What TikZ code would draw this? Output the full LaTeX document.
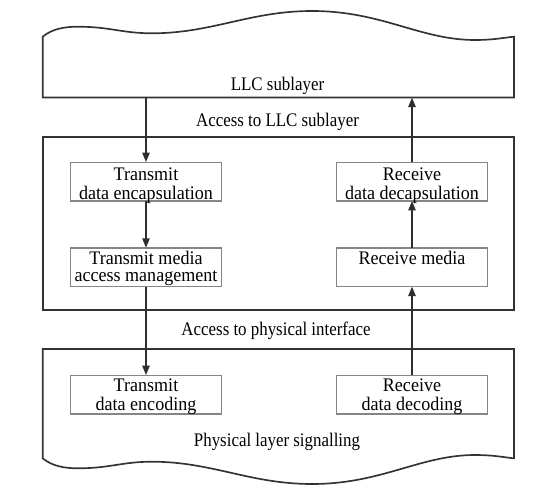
\documentclass[tikz,border=0pt]{standalone}
\usepackage{fontspec}
\setmainfont{Liberation Serif}
\newfontfamily\boxfont[FakeStretch=0.94]{Liberation Serif}
\newfontfamily\lblfont[FakeStretch=0.88]{Liberation Serif}
\usetikzlibrary{arrows.meta,calc}
\definecolor{outerc}{HTML}{333333}
\definecolor{innerc}{HTML}{858585}
\definecolor{arrc}{HTML}{2E2E2E}
\tikzset{
  outerline/.style={draw=outerc, line width=1.25pt, line join=miter},
  fnbox/.style={draw=innerc, line width=1pt, minimum width=113.6pt, minimum height=29pt, inner sep=0pt, outer sep=0pt},
  region/.style={inner sep=0pt, outer sep=0pt},
  boxtxt/.style={anchor=base, inner sep=0pt, font=\boxfont\fontsize{14.4pt}{16pt}\selectfont, text=black},
  lbltxt/.style={anchor=base, inner sep=0pt, font=\lblfont\fontsize{14.4pt}{16pt}\selectfont, text=black},
  arr/.style={draw=arrc, line width=1.45pt, -{Triangle[length=7.2pt, width=5.4pt]}}
}
\begin{document}
\begin{tikzpicture}[x=0.75pt, y=-0.75pt]
\useasboundingbox[fill=white] (0,0) rectangle (545,499);

% top shape (LLC sublayer)
\draw[outerline] (42.7,97.5) -- (42.7,36.7)
  .. controls (52,29) and (64,26.7) .. (78,26.7)
  .. controls (110,26.7) and (122,33.3) .. (152,33.3)
  .. controls (212,33.3) and (250,11) .. (312,11)
  .. controls (382,11) and (420,40) .. (475,40)
  .. controls (494,40) and (505,37.5) .. (514,36.7)
  -- (514,97.5) -- cycle;
\node[region, minimum width=353.5pt, minimum height=45.6pt] (llc) at (278.35,67.1) {};

% bottom shape (physical layer signalling)
\draw[outerline] (42.7,349) -- (514,349) -- (514,458.3)
  .. controls (505,457.5) and (494,455) .. (475,455)
  .. controls (420,455) and (382,484) .. (312,484)
  .. controls (250,484) and (212,461.7) .. (152,461.7)
  .. controls (122,461.7) and (110,468.3) .. (78,468.3)
  .. controls (64,468.3) and (52,466) .. (42.7,458.3)
  -- cycle;
\node[region, minimum width=353.5pt, minimum height=82pt] (phy) at (278.35,403.65) {};

% middle box (MAC)
\node[outerline, region, minimum width=353.5pt, minimum height=129.75pt] (mac) at (278.35,223.5) {};

% function boxes
\node[fnbox] (tenc) at (146,181.5) {};
\node[fnbox] (rdec) at (412,181.5) {};
\node[fnbox] (tmac) at (146,267.2) {};
\node[fnbox] (rmac) at (412,267.2) {};
\node[fnbox] (tcod) at (146,394.5) {};
\node[fnbox] (rcod) at (412,394.5) {};

% box texts
\node[boxtxt] (tenc1) at (146,180.5) {Transmit};
\node[boxtxt] (tenc2) at (146,199) {data encapsulation};
\node[boxtxt] (rdec1) at (412,180.3) {Receive};
\node[boxtxt] (rdec2) at (412,199.2) {data decapsulation};
\node[boxtxt] (tmac1) at (146,264) {Transmit media};
\node[boxtxt] (tmac2) at (146,281.5) {access management};
\node[boxtxt] (rmac1) at (412,264) {Receive media};
\node[boxtxt] (tcod1) at (146,391.7) {Transmit};
\node[boxtxt] (tcod2) at (146,410.3) {data encoding};
\node[boxtxt] (rcod1) at (412,391.7) {Receive};
\node[boxtxt] (rcod2) at (412,410.3) {data decoding};

% layer labels
\node[lbltxt] (llclbl) at (277.5,90.7) {LLC sublayer};
\node[lbltxt] (acc1) at (277.5,127) {Access to LLC sublayer};
\node[lbltxt] (acc2) at (276,335.5) {Access to physical interface};
\node[lbltxt] (phylbl) at (277,446) {Physical layer signalling};

% connectors
\draw[arr] (llc.south -| tenc.north) -- (tenc.north);
\draw[arr] (tenc.south) -- (tmac.north);
\draw[arr] (tmac.south) -- (tcod.north);
\draw[arr] (rcod.north) -- (rmac.south);
\draw[arr] (rmac.north) -- (rdec.south);
\draw[arr] (rdec.north) -- (llc.south -| rdec.north);
\end{tikzpicture}
\end{document}
